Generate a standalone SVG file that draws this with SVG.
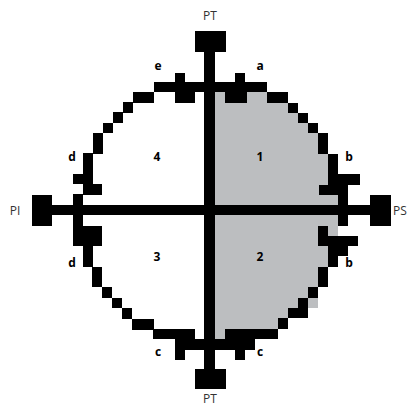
<svg xmlns="http://www.w3.org/2000/svg" width="411" height="407" viewBox="0 0 411 407">
<style>
.b{fill:#000}
.pt{font-family:"Open Sans","Liberation Sans",sans-serif;font-size:12px;fill:#333;text-anchor:middle}
.lb{font-family:"Open Sans","Liberation Sans",sans-serif;font-size:12px;font-weight:bold;fill:#000;text-anchor:middle}
</style>
<rect width="411" height="407" fill="#fff"/>
<g id="shaded">
<path fill="#bcbec0" d="M215,92H267V103H288V113H298V123H308V133H318V154H328V185H338V267H328V287H318V308H298V318H288V329H278V339H215Z"/>
</g>
<g id="ring" class="b">
<rect x="154" y="82" width="113" height="10"/>
<rect x="175" y="73" width="10" height="9"/>
<rect x="235" y="73" width="10" height="9"/>
<rect x="175" y="92" width="20" height="11"/>
<rect x="225" y="92" width="22" height="11"/>
<rect x="133" y="92" width="21" height="11"/>
<rect x="123" y="102" width="10" height="11"/>
<rect x="113" y="112" width="10" height="11"/>
<rect x="103" y="123" width="10" height="10"/>
<rect x="93" y="133" width="10" height="21"/>
<rect x="83" y="153" width="10" height="30"/>
<rect x="73" y="174" width="20" height="10"/>
<rect x="83" y="184" width="19" height="11"/>
<rect x="73" y="194" width="10" height="32"/>
<rect x="73" y="226" width="29" height="20"/>
<rect x="83" y="245" width="10" height="22"/>
<rect x="92" y="267" width="10" height="20"/>
<rect x="102" y="287" width="10" height="11"/>
<rect x="112" y="298" width="10" height="10"/>
<rect x="122" y="308" width="10" height="11"/>
<rect x="132" y="319" width="22" height="11"/>
<rect x="153" y="329" width="42" height="10"/>
<rect x="175" y="339" width="30" height="11"/>
<rect x="175" y="350" width="10" height="10"/>
<rect x="267" y="92" width="21" height="11"/>
<rect x="288" y="103" width="10" height="10"/>
<rect x="298" y="113" width="10" height="10"/>
<rect x="308" y="123" width="10" height="10"/>
<rect x="318" y="133" width="10" height="21"/>
<rect x="328" y="154" width="10" height="21"/>
<rect x="328" y="174" width="32" height="11"/>
<rect x="319" y="185" width="29" height="10"/>
<rect x="338" y="195" width="10" height="31"/>
<rect x="318" y="226" width="10" height="10"/>
<rect x="318" y="236" width="40" height="10"/>
<rect x="328" y="246" width="20" height="10"/>
<rect x="328" y="256" width="10" height="11"/>
<rect x="318" y="267" width="10" height="20"/>
<rect x="308" y="287" width="10" height="11"/>
<rect x="298" y="298" width="10" height="10"/>
<rect x="288" y="308" width="20" height="10"/>
<rect x="278" y="318" width="10" height="11"/>
<rect x="225" y="329" width="53" height="10"/>
<rect x="215" y="339" width="40" height="11"/>
<rect x="235" y="350" width="10" height="10"/>
</g>
<g id="axes" class="b">
<rect x="204" y="52" width="11" height="317"/>
<rect x="52" y="205" width="318" height="10"/>
<rect x="195" y="31" width="31" height="21"/>
<rect x="195" y="369" width="31" height="20"/>
<rect x="32" y="195" width="20" height="31"/>
<rect x="370" y="195" width="21" height="31"/>
</g>
<g id="labels">
<text class="pt" x="210" y="20">PT</text>
<text class="pt" x="210" y="403">PT</text>
<text class="pt" x="15" y="215">PI</text>
<text class="pt" x="400" y="215">PS</text>
<text class="lb" x="158" y="70">e</text>
<text class="lb" x="260" y="70">a</text>
<text class="lb" x="72" y="161">d</text>
<text class="lb" x="72" y="267">d</text>
<text class="lb" x="349" y="161">b</text>
<text class="lb" x="349" y="267">b</text>
<text class="lb" x="158" y="356">c</text>
<text class="lb" x="260" y="356">c</text>
<text class="lb" x="157" y="161">4</text>
<text class="lb" x="260" y="161">1</text>
<text class="lb" x="157" y="261">3</text>
<text class="lb" x="260" y="261">2</text>
</g>
</svg>
